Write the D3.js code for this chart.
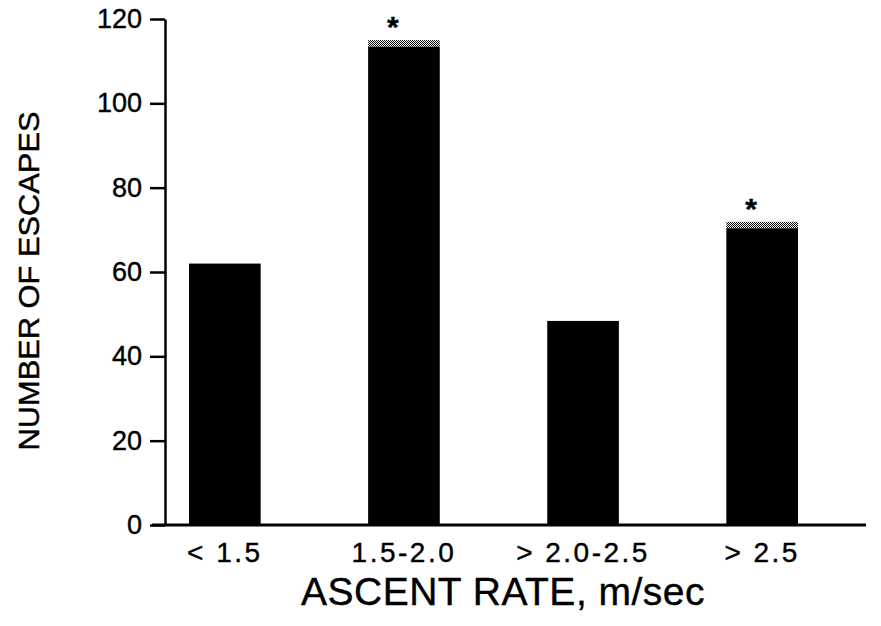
<!DOCTYPE html>
<html>
<head>
<meta charset="utf-8">
<script src="https://cdn.jsdelivr.net/npm/d3@7.9.0/dist/d3.min.js"></script>
<style>
  body { margin: 0; background: #fff; }
  svg { display: block; font-family: "Liberation Sans", Arial, sans-serif; }
  text { stroke: #000; stroke-width: 0.4; fill: #000; }
</style>
</head>
<body>
<svg id="chart" width="881" height="626"></svg>
<script>
const categories = ["< 1.5", "1.5-2.0", "> 2.0-2.5", "> 2.5"];
const solidValues = [62, 113.5, 48.4, 70.4];
const stippleValues = [0, 1.5, 0, 1.5];
const significant = [false, true, false, true];
const yTicks = [0, 20, 40, 60, 80, 100, 120];

const svg = d3.select("#chart");

// stippled grey cap on starred bars
const defs = svg.append("defs");
const pat = defs.append("pattern")
    .attr("id", "stipple")
    .attr("width", 2).attr("height", 2)
    .attr("patternUnits", "userSpaceOnUse");
pat.append("rect").attr("width", 2).attr("height", 2).attr("fill", "#fff");
pat.append("rect").attr("width", 1).attr("height", 1).attr("fill", "#000");
pat.append("rect").attr("x", 1).attr("y", 1).attr("width", 1).attr("height", 1).attr("fill", "#000");

const x = d3.scaleBand()
    .domain(categories)
    .range([165, 822])
    .paddingInner(0.6)
    .paddingOuter(0.134);

const y = d3.scaleLinear().domain([0, 120]).range([525, 19]);

const data = categories.map((c, i) => ({
    cat: c, solid: solidValues[i], stipple: stippleValues[i], star: significant[i]
}));

// bars
svg.selectAll("rect.bar")
    .data(data)
    .enter()
    .append("rect")
    .attr("class", "bar")
    .attr("x", d => x(d.cat))
    .attr("width", x.bandwidth())
    .attr("y", d => y(d.solid))
    .attr("height", d => y(0) - y(d.solid))
    .attr("fill", "#000");

svg.selectAll("rect.cap")
    .data(data.filter(d => d.stipple > 0))
    .enter()
    .append("rect")
    .attr("class", "cap")
    .attr("x", d => x(d.cat))
    .attr("width", x.bandwidth())
    .attr("y", d => y(d.solid + d.stipple))
    .attr("height", d => y(d.solid) - y(d.solid + d.stipple))
    .attr("fill", "url(#stipple)");

svg.selectAll("text.star")
    .data(data.filter(d => d.star))
    .enter()
    .append("text")
    .attr("class", "star")
    .attr("x", d => x(d.cat) + x.bandwidth() / 2 - 11)
    .attr("y", d => y(d.solid + d.stipple) - 3)
    .attr("text-anchor", "middle")
    .attr("font-size", 30)
    .attr("font-weight", "bold")
    .text("*");

// y axis
const yAxis = svg.append("g")
    .attr("transform", "translate(165,0)")
    .call(d3.axisLeft(y).tickValues(yTicks).tickSize(15).tickSizeOuter(0).tickPadding(8));
yAxis.select(".domain").attr("stroke", "#000").attr("stroke-width", 2.5);
yAxis.selectAll(".tick line").attr("stroke", "#000").attr("stroke-width", 2.5);
yAxis.selectAll(".tick text")
    .attr("font-size", 27)
    .attr("fill", "#000")
    .attr("font-family", "'Liberation Sans', Arial, sans-serif");

// x axis baseline
svg.append("line")
    .attr("x1", 152).attr("x2", 866)
    .attr("y1", y(0)).attr("y2", y(0))
    .attr("stroke", "#000").attr("stroke-width", 3);

svg.selectAll("text.xlab")
    .data(categories)
    .enter()
    .append("text")
    .attr("class", "xlab")
    .attr("x", d => x(d) + x.bandwidth() / 2)
    .attr("y", 562)
    .attr("text-anchor", "middle")
    .attr("font-size", 28)
    .attr("letter-spacing", 2.5)
    .text(d => d);

// titles
svg.append("text")
    .attr("x", 503).attr("y", 605)
    .attr("text-anchor", "middle")
    .attr("font-size", 39)
    .attr("letter-spacing", 0.5)
    .text("ASCENT RATE, m/sec");

svg.append("text")
    .attr("transform", "translate(39,281) rotate(-90)")
    .attr("text-anchor", "middle")
    .attr("font-size", 30)
    .attr("textLength", 339)
    .attr("lengthAdjust", "spacingAndGlyphs")
    .text("NUMBER OF ESCAPES");
</script>
</body>
</html>
